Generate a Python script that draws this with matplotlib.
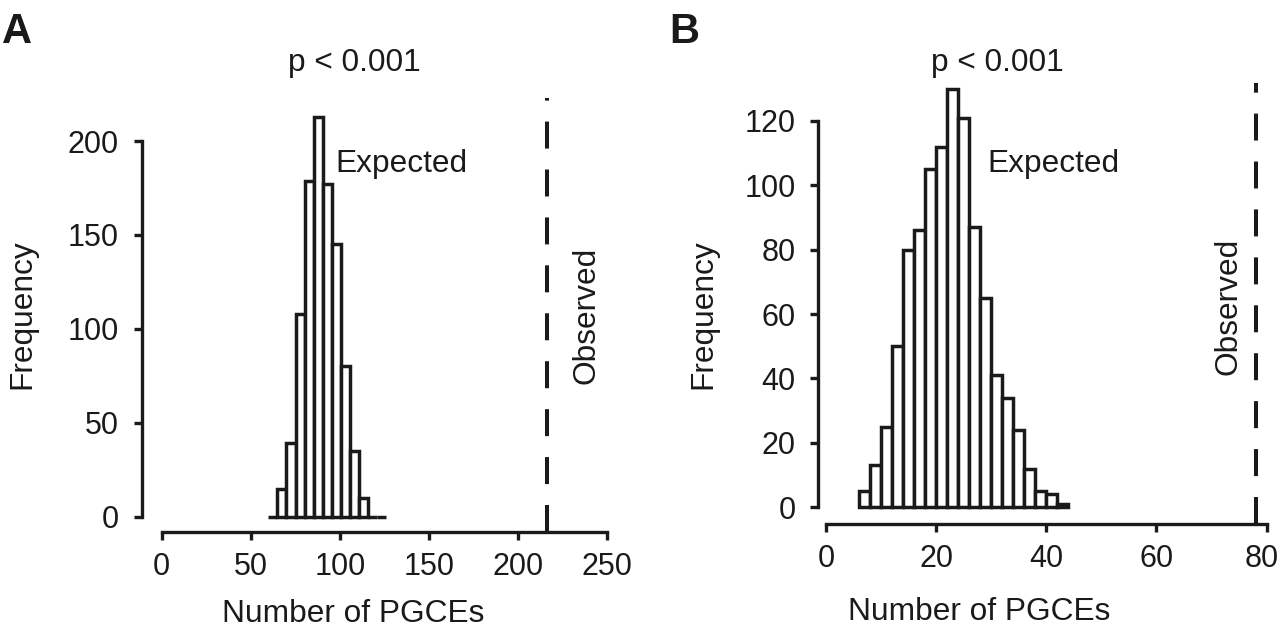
import matplotlib
matplotlib.use("Agg")
import matplotlib.pyplot as plt
import matplotlib.transforms as mtransforms
import numpy as np

plt.rcParams['font.family'] = ['Liberation Sans', 'DejaVu Sans']

# ---------------- data ----------------
# Panel A: histogram of expected number of PGCEs (bin edges and counts)
a_edges = [59.8, 64.9, 70.0, 75.1, 80.2, 85.3, 90.4, 95.5, 100.6, 105.7,
           110.8, 115.9, 121.0, 126.1]
a_counts = [0, 15, 39, 108, 179, 213, 177, 145, 80, 35, 10, 0, 0]
a_observed = 216
a_xticks = [0, 50, 100, 150, 200, 250]
a_yticks = [0, 50, 100, 150, 200]

# Panel B
b_edges = [6, 8, 10, 12, 14, 16, 18, 20, 22, 24, 26, 28, 30, 32, 34, 36,
           38, 40, 42, 44]
b_counts = [5, 13, 25, 50, 80, 86, 105, 112, 130, 121, 87, 65, 41, 34, 24,
            12, 5, 4, 1]
b_observed = 78
b_xticks = [0, 20, 40, 60, 80]
b_yticks = [0, 20, 40, 60, 80, 100, 120]

W, H = 1280, 629
fig = plt.figure(figsize=(W / 100, H / 100), dpi=100)

FS = 22
LFS = 22.8
LW = 2.4
tc = '#1a1a1a'


def px(x, y):
    return x / W, 1 - y / H


def panel(rect, edges, counts, obs, xticks, yticks, xlim, ylim, obs_top_frac):
    ax = fig.add_axes(rect)
    edges = np.asarray(edges, dtype=float)
    widths = np.diff(edges)
    ax.bar(edges[:-1], counts, width=widths, align='edge', facecolor='white',
           edgecolor=tc, linewidth=2.5, zorder=2)
    ax.axvline(obs, ymin=0, ymax=obs_top_frac, color=tc, linewidth=2.9,
               linestyle=(0, (6.7, 5.2)), zorder=3)
    ax.set_xlim(*xlim)
    ax.set_ylim(*ylim)
    ax.set_xticks(xticks)
    ax.set_yticks(yticks)
    for s in ['top', 'right']:
        ax.spines[s].set_visible(False)
    for s in ['left', 'bottom']:
        ax.spines[s].set_linewidth(LW)
        ax.spines[s].set_color(tc)
    ax.spines['left'].set_bounds(yticks[0], yticks[-1])
    ax.spines['bottom'].set_bounds(xticks[0], xticks[-1])
    ax.tick_params(axis='both', direction='out', length=5.5, width=LW,
                   labelsize=FS, color=tc, labelcolor=tc)
    ax.tick_params(axis='y', pad=11)
    ax.tick_params(axis='x', pad=9)
    ax.patch.set_visible(False)
    return ax


axA = panel([0.11070, 0.15374, 0.37367, 0.70318], a_edges, a_counts,
            a_observed, a_xticks, a_yticks, (-11.22, 257.13), (-8.31, 227.21),
            0.981)
axB = panel([0.63930, 0.16645, 0.35680, 0.70636], b_edges, b_counts,
            b_observed, b_xticks, b_yticks, (-1.398, 81.52), (-5.28, 132.70),
            0.993)

# nudge the last tick label of panel B so it stays inside the figure
fig.canvas.draw()
lbl = axB.get_xticklabels()[-1]
lbl.set_transform(lbl.get_transform() +
                  mtransforms.ScaledTranslation(-5 / 100, 0, fig.dpi_scale_trans))

# panel letters
fig.text(*px(2, 43), 'A', fontsize=30, fontweight='bold', ha='left',
         va='baseline', color=tc)
fig.text(*px(669, 43), 'B', fontsize=30, fontweight='bold', ha='left',
         va='baseline', color=tc)

# p values
fig.text(*px(354, 71.5), 'p < 0.001', fontsize=LFS, ha='center',
         va='baseline', color=tc)
fig.text(*px(997.5, 71), 'p < 0.001', fontsize=LFS, ha='center',
         va='baseline', color=tc)

# Expected labels
fig.text(*px(335, 171.5), 'Expected', fontsize=LFS, ha='left', va='baseline',
         color=tc)
fig.text(*px(987, 171.5), 'Expected', fontsize=LFS, ha='left', va='baseline',
         color=tc)

# Observed labels
fig.text(*px(587, 315), 'Observed', fontsize=LFS, rotation=90, ha='center',
         va='center', color=tc)
fig.text(*px(1228, 306), 'Observed', fontsize=LFS, rotation=90, ha='center',
         va='center', color=tc)

# axis labels
fig.text(*px(22, 314), 'Frequency', fontsize=LFS, rotation=90, ha='center',
         va='center', color=tc)
fig.text(*px(703, 314), 'Frequency', fontsize=LFS, rotation=90, ha='center',
         va='center', color=tc)
fig.text(*px(353, 621.5), 'Number of PGCEs', fontsize=LFS, ha='center',
         va='baseline', color=tc)
fig.text(*px(979, 620), 'Number of PGCEs', fontsize=LFS, ha='center',
         va='baseline', color=tc)

fig.savefig('out.png', dpi=100, facecolor='white')
